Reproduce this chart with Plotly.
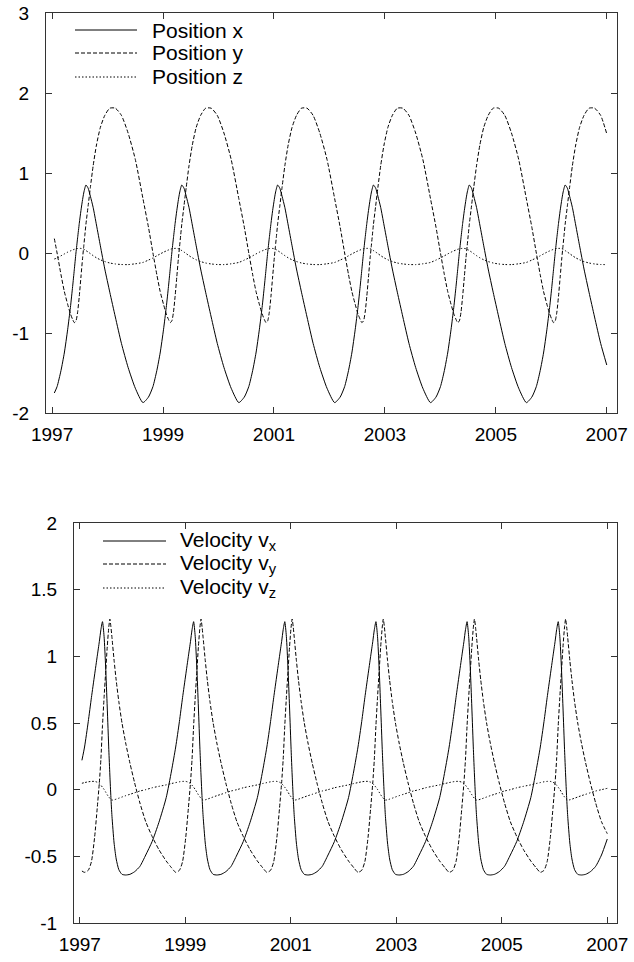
import plotly.graph_objects as go

# ---------------- data ----------------
t = [
    1997.04, 1997.09, 1997.16, 1997.22, 1997.28, 1997.33, 1997.37, 1997.40, 1997.43, 1997.46, 1997.49, 1997.52, 1997.55, 1997.57, 1997.59, 1997.61, 1997.65, 1997.69, 1997.74, 1997.80, 1997.87, 1997.95, 1998.04, 1998.14, 1998.25, 1998.37, 1998.50,
    1998.638, 1998.738, 1998.818, 1998.888, 1998.948, 1999.008, 1999.058, 1999.098, 1999.128, 1999.158, 1999.188, 1999.218, 1999.248, 1999.278, 1999.298, 1999.318, 1999.338, 1999.378, 1999.418, 1999.468, 1999.528, 1999.598, 1999.678, 1999.768, 1999.868, 1999.978, 2000.098, 2000.228,
    2000.366, 2000.466, 2000.546, 2000.616, 2000.676, 2000.736, 2000.786, 2000.826, 2000.856, 2000.886, 2000.916, 2000.946, 2000.976, 2001.006, 2001.026, 2001.046, 2001.066, 2001.106, 2001.146, 2001.196, 2001.256, 2001.326, 2001.406, 2001.496, 2001.596, 2001.706, 2001.826, 2001.956,
    2002.094, 2002.194, 2002.274, 2002.344, 2002.404, 2002.464, 2002.514, 2002.554, 2002.584, 2002.614, 2002.644, 2002.674, 2002.704, 2002.734, 2002.754, 2002.774, 2002.794, 2002.834, 2002.874, 2002.924, 2002.984, 2003.054, 2003.134, 2003.224, 2003.324, 2003.434, 2003.554, 2003.684,
    2003.822, 2003.922, 2004.002, 2004.072, 2004.132, 2004.192, 2004.242, 2004.282, 2004.312, 2004.342, 2004.372, 2004.402, 2004.432, 2004.462, 2004.482, 2004.502, 2004.522, 2004.562, 2004.602, 2004.652, 2004.712, 2004.782, 2004.862, 2004.952, 2005.052, 2005.162, 2005.282, 2005.412,
    2005.55, 2005.65, 2005.73, 2005.80, 2005.86, 2005.92, 2005.97, 2006.01, 2006.04, 2006.07, 2006.10, 2006.13, 2006.16, 2006.19, 2006.21, 2006.23, 2006.25, 2006.29, 2006.33, 2006.38, 2006.44, 2006.51, 2006.59, 2006.68, 2006.78, 2006.89, 2007.00,
]

pos_x = [
    -1.75, -1.67, -1.47, -1.25, -0.96, -0.68, -0.42, -0.21, 0.00, 0.19, 0.37, 0.53, 0.67, 0.75, 0.81, 0.85, 0.81, 0.71, 0.57, 0.35, 0.09, -0.20, -0.49, -0.80, -1.13, -1.43, -1.69,
    -1.87, -1.80, -1.67, -1.47, -1.25, -0.96, -0.68, -0.42, -0.21, 0.00, 0.19, 0.37, 0.53, 0.67, 0.75, 0.81, 0.85, 0.81, 0.71, 0.57, 0.35, 0.09, -0.20, -0.49, -0.80, -1.13, -1.43, -1.69,
    -1.87, -1.80, -1.67, -1.47, -1.25, -0.96, -0.68, -0.42, -0.21, 0.00, 0.19, 0.37, 0.53, 0.67, 0.75, 0.81, 0.85, 0.81, 0.71, 0.57, 0.35, 0.09, -0.20, -0.49, -0.80, -1.13, -1.43, -1.69,
    -1.87, -1.80, -1.67, -1.47, -1.25, -0.96, -0.68, -0.42, -0.21, 0.00, 0.19, 0.37, 0.53, 0.67, 0.75, 0.81, 0.85, 0.81, 0.71, 0.57, 0.35, 0.09, -0.20, -0.49, -0.80, -1.13, -1.43, -1.69,
    -1.87, -1.80, -1.67, -1.47, -1.25, -0.96, -0.68, -0.42, -0.21, 0.00, 0.19, 0.37, 0.53, 0.67, 0.75, 0.81, 0.85, 0.81, 0.71, 0.57, 0.35, 0.09, -0.20, -0.49, -0.80, -1.13, -1.43, -1.69,
    -1.87, -1.80, -1.67, -1.47, -1.25, -0.96, -0.68, -0.42, -0.21, 0.00, 0.19, 0.37, 0.53, 0.67, 0.75, 0.81, 0.85, 0.81, 0.71, 0.57, 0.35, 0.09, -0.20, -0.49, -0.80, -1.13, -1.40,
]

pos_y = [
    0.18, 0.00, -0.27, -0.48, -0.64, -0.76, -0.83, -0.87, -0.85, -0.74, -0.54, -0.30, -0.06, 0.08, 0.22, 0.36, 0.59, 0.82, 1.09, 1.35, 1.57, 1.72, 1.81, 1.81, 1.72, 1.50, 1.17,
    0.68, 0.32, 0.00, -0.27, -0.48, -0.64, -0.76, -0.83, -0.87, -0.85, -0.74, -0.54, -0.30, -0.06, 0.08, 0.22, 0.36, 0.59, 0.82, 1.09, 1.35, 1.57, 1.72, 1.81, 1.81, 1.72, 1.50, 1.17,
    0.68, 0.32, 0.00, -0.27, -0.48, -0.64, -0.76, -0.83, -0.87, -0.85, -0.74, -0.54, -0.30, -0.06, 0.08, 0.22, 0.36, 0.59, 0.82, 1.09, 1.35, 1.57, 1.72, 1.81, 1.81, 1.72, 1.50, 1.17,
    0.68, 0.32, 0.00, -0.27, -0.48, -0.64, -0.76, -0.83, -0.87, -0.85, -0.74, -0.54, -0.30, -0.06, 0.08, 0.22, 0.36, 0.59, 0.82, 1.09, 1.35, 1.57, 1.72, 1.81, 1.81, 1.72, 1.50, 1.17,
    0.68, 0.32, 0.00, -0.27, -0.48, -0.64, -0.76, -0.83, -0.87, -0.85, -0.74, -0.54, -0.30, -0.06, 0.08, 0.22, 0.36, 0.59, 0.82, 1.09, 1.35, 1.57, 1.72, 1.81, 1.81, 1.72, 1.50, 1.17,
    0.68, 0.32, 0.00, -0.27, -0.48, -0.64, -0.76, -0.83, -0.87, -0.85, -0.74, -0.54, -0.30, -0.06, 0.08, 0.22, 0.36, 0.59, 0.82, 1.09, 1.35, 1.57, 1.72, 1.81, 1.81, 1.72, 1.49,
]

pos_z = [
    -0.075, -0.062, -0.035, -0.012, 0.010, 0.026, 0.038, 0.046, 0.052, 0.056, 0.058, 0.057, 0.053, 0.048, 0.040, 0.030, 0.012, -0.008, -0.033, -0.060, -0.085, -0.107, -0.125, -0.137, -0.144, -0.145, -0.135,
    -0.118, -0.088, -0.062, -0.035, -0.012, 0.010, 0.026, 0.038, 0.046, 0.052, 0.056, 0.058, 0.057, 0.053, 0.048, 0.040, 0.030, 0.012, -0.008, -0.033, -0.060, -0.085, -0.107, -0.125, -0.137, -0.144, -0.145, -0.135,
    -0.118, -0.088, -0.062, -0.035, -0.012, 0.010, 0.026, 0.038, 0.046, 0.052, 0.056, 0.058, 0.057, 0.053, 0.048, 0.040, 0.030, 0.012, -0.008, -0.033, -0.060, -0.085, -0.107, -0.125, -0.137, -0.144, -0.145, -0.135,
    -0.118, -0.088, -0.062, -0.035, -0.012, 0.010, 0.026, 0.038, 0.046, 0.052, 0.056, 0.058, 0.057, 0.053, 0.048, 0.040, 0.030, 0.012, -0.008, -0.033, -0.060, -0.085, -0.107, -0.125, -0.137, -0.144, -0.145, -0.135,
    -0.118, -0.088, -0.062, -0.035, -0.012, 0.010, 0.026, 0.038, 0.046, 0.052, 0.056, 0.058, 0.057, 0.053, 0.048, 0.040, 0.030, 0.012, -0.008, -0.033, -0.060, -0.085, -0.107, -0.125, -0.137, -0.144, -0.145, -0.135,
    -0.118, -0.088, -0.062, -0.035, -0.012, 0.010, 0.026, 0.038, 0.046, 0.052, 0.056, 0.058, 0.057, 0.053, 0.048, 0.040, 0.030, 0.012, -0.008, -0.033, -0.060, -0.085, -0.107, -0.125, -0.137, -0.144, -0.145,
]

vel_x = [
    0.22, 0.32, 0.51, 0.69, 0.86, 1.00, 1.11, 1.20, 1.26, 1.15, 0.92, 0.62, 0.30, 0.11, -0.06, -0.20, -0.40, -0.52, -0.60, -0.635, -0.64, -0.635, -0.615, -0.575, -0.49, -0.39, -0.245,
    -0.06, 0.14, 0.32, 0.51, 0.69, 0.86, 1.00, 1.11, 1.20, 1.26, 1.15, 0.92, 0.62, 0.30, 0.11, -0.06, -0.20, -0.40, -0.52, -0.60, -0.635, -0.64, -0.635, -0.615, -0.575, -0.49, -0.39, -0.245,
    -0.06, 0.14, 0.32, 0.51, 0.69, 0.86, 1.00, 1.11, 1.20, 1.26, 1.15, 0.92, 0.62, 0.30, 0.11, -0.06, -0.20, -0.40, -0.52, -0.60, -0.635, -0.64, -0.635, -0.615, -0.575, -0.49, -0.39, -0.245,
    -0.06, 0.14, 0.32, 0.51, 0.69, 0.86, 1.00, 1.11, 1.20, 1.26, 1.15, 0.92, 0.62, 0.30, 0.11, -0.06, -0.20, -0.40, -0.52, -0.60, -0.635, -0.64, -0.635, -0.615, -0.575, -0.49, -0.39, -0.245,
    -0.06, 0.14, 0.32, 0.51, 0.69, 0.86, 1.00, 1.11, 1.20, 1.26, 1.15, 0.92, 0.62, 0.30, 0.11, -0.06, -0.20, -0.40, -0.52, -0.60, -0.635, -0.64, -0.635, -0.615, -0.575, -0.49, -0.39, -0.245,
    -0.06, 0.14, 0.32, 0.51, 0.69, 0.86, 1.00, 1.11, 1.20, 1.26, 1.15, 0.92, 0.62, 0.30, 0.11, -0.06, -0.20, -0.40, -0.52, -0.60, -0.635, -0.64, -0.635, -0.615, -0.575, -0.49, -0.37,
]

vel_y = [
    -0.61, -0.62, -0.605, -0.54, -0.36, -0.14, 0.05, 0.23, 0.48, 0.69, 0.88, 1.07, 1.22, 1.28, 1.22, 1.14, 0.97, 0.82, 0.66, 0.50, 0.35, 0.20, 0.05, -0.10, -0.24, -0.35, -0.45,
    -0.535, -0.585, -0.62, -0.605, -0.54, -0.36, -0.14, 0.05, 0.23, 0.48, 0.69, 0.88, 1.07, 1.22, 1.28, 1.22, 1.14, 0.97, 0.82, 0.66, 0.50, 0.35, 0.20, 0.05, -0.10, -0.24, -0.35, -0.45,
    -0.535, -0.585, -0.62, -0.605, -0.54, -0.36, -0.14, 0.05, 0.23, 0.48, 0.69, 0.88, 1.07, 1.22, 1.28, 1.22, 1.14, 0.97, 0.82, 0.66, 0.50, 0.35, 0.20, 0.05, -0.10, -0.24, -0.35, -0.45,
    -0.535, -0.585, -0.62, -0.605, -0.54, -0.36, -0.14, 0.05, 0.23, 0.48, 0.69, 0.88, 1.07, 1.22, 1.28, 1.22, 1.14, 0.97, 0.82, 0.66, 0.50, 0.35, 0.20, 0.05, -0.10, -0.24, -0.35, -0.45,
    -0.535, -0.585, -0.62, -0.605, -0.54, -0.36, -0.14, 0.05, 0.23, 0.48, 0.69, 0.88, 1.07, 1.22, 1.28, 1.22, 1.14, 0.97, 0.82, 0.66, 0.50, 0.35, 0.20, 0.05, -0.10, -0.24, -0.35, -0.45,
    -0.535, -0.585, -0.62, -0.605, -0.54, -0.36, -0.14, 0.05, 0.23, 0.48, 0.69, 0.88, 1.07, 1.22, 1.28, 1.22, 1.14, 0.97, 0.82, 0.66, 0.50, 0.35, 0.20, 0.05, -0.10, -0.24, -0.33,
]

vel_z = [
    0.048, 0.053, 0.059, 0.062, 0.062, 0.056, 0.045, 0.033, 0.018, 0.002, -0.018, -0.038, -0.055, -0.065, -0.073, -0.078, -0.076, -0.071, -0.064, -0.055, -0.045, -0.035, -0.023, -0.010, 0.000, 0.014, 0.025,
    0.036, 0.046, 0.053, 0.059, 0.062, 0.062, 0.056, 0.045, 0.033, 0.018, 0.002, -0.018, -0.038, -0.055, -0.065, -0.073, -0.078, -0.076, -0.071, -0.064, -0.055, -0.045, -0.035, -0.023, -0.010, 0.000, 0.014, 0.025,
    0.036, 0.046, 0.053, 0.059, 0.062, 0.062, 0.056, 0.045, 0.033, 0.018, 0.002, -0.018, -0.038, -0.055, -0.065, -0.073, -0.078, -0.076, -0.071, -0.064, -0.055, -0.045, -0.035, -0.023, -0.010, 0.000, 0.014, 0.025,
    0.036, 0.046, 0.053, 0.059, 0.062, 0.062, 0.056, 0.045, 0.033, 0.018, 0.002, -0.018, -0.038, -0.055, -0.065, -0.073, -0.078, -0.076, -0.071, -0.064, -0.055, -0.045, -0.035, -0.023, -0.010, 0.000, 0.014, 0.025,
    0.036, 0.046, 0.053, 0.059, 0.062, 0.062, 0.056, 0.045, 0.033, 0.018, 0.002, -0.018, -0.038, -0.055, -0.065, -0.073, -0.078, -0.076, -0.071, -0.064, -0.055, -0.045, -0.035, -0.023, -0.010, 0.000, 0.014, 0.025,
    0.036, 0.046, 0.053, 0.059, 0.062, 0.062, 0.056, 0.045, 0.033, 0.018, 0.002, -0.018, -0.038, -0.055, -0.065, -0.073, -0.078, -0.076, -0.071, -0.064, -0.055, -0.045, -0.035, -0.023, -0.010, 0.000, 0.010,
]

year_ticks = [1997, 1999, 2001, 2003, 2005, 2007]
year_labels = ["1997", "1999", "2001", "2003", "2005", "2007"]
pos_ticks = [-2, -1, 0, 1, 2, 3]
pos_labels = ["-2", "-1", "0", "1", "2", "3"]
vel_ticks = [-1, -0.5, 0, 0.5, 1, 1.5, 2]
vel_labels = ["-1", "-0.5", "0", "0.5", "1", "1.5", "2"]

pos_names = ["Position x", "Position y", "Position z"]
vel_names = ["Velocity v<sub>x</sub>", "Velocity v<sub>y</sub>", "Velocity v<sub>z</sub>"]

# ---------------- styling ----------------
W, H = 634, 962
FONT = "Liberation Sans, Arial, Helvetica, sans-serif"
FS = 19
KEY_FS = 21
INK = "#000000"
DASHES = ["solid", "4px,2px", "1.5px,2px"]


def px_x(p):
    return p / W


def px_y(p):
    return 1 - p / H


fig = go.Figure()

for vals, name, dash in zip([pos_x, pos_y, pos_z], pos_names, DASHES):
    fig.add_trace(go.Scatter(
        x=t, y=vals, mode="lines", name=name, showlegend=False,
        line=dict(color=INK, width=1, dash=dash, shape="spline", smoothing=0.6),
        xaxis="x", yaxis="y"))

for vals, name, dash in zip([vel_x, vel_y, vel_z], vel_names, DASHES):
    fig.add_trace(go.Scatter(
        x=t, y=vals, mode="lines", name=name, showlegend=False,
        line=dict(color=INK, width=1, dash=dash, shape="spline", smoothing=0.6),
        xaxis="x2", yaxis="y2"))

axis_common = dict(
    showline=True, linecolor="#333333", linewidth=1, mirror="ticks",
    ticks="inside", ticklen=6, tickwidth=1, tickcolor="#333333",
    showgrid=False, zeroline=False, automargin=False,
    tickfont=dict(family=FONT, size=FS, color=INK),
)

xr = [1996.89, 2007.19]

fig.update_layout(
    template="none",
    width=W, height=H,
    margin=dict(l=0, r=0, t=0, b=0, pad=0, autoexpand=False),
    paper_bgcolor="white", plot_bgcolor="white",
    font=dict(family=FONT, size=FS, color=INK),
    showlegend=False,
    xaxis=dict(domain=[px_x(46), px_x(617.3)], range=xr, anchor="y",
               tickmode="array", tickvals=year_ticks, ticktext=year_labels,
               ticklabelstandoff=4, **axis_common),
    yaxis=dict(domain=[px_y(413), px_y(13)], range=[-2, 3], anchor="x",
               tickmode="array", tickvals=pos_ticks, ticktext=pos_labels,
               ticklabelstandoff=12, **axis_common),
    xaxis2=dict(domain=[px_x(74), px_x(617.3)], range=xr, anchor="y2",
                tickmode="array", tickvals=year_ticks, ticktext=year_labels,
                ticklabelstandoff=4, **axis_common),
    yaxis2=dict(domain=[px_y(923), px_y(523)], range=[-1, 2], anchor="x2",
                tickmode="array", tickvals=vel_ticks, ticktext=vel_labels,
                ticklabelstandoff=12, **axis_common),
)

# manual gnuplot-style keys (sample line on the left, label on the right)
shapes = []
annotations = []
key_rows_top = [30, 53, 77]
key_rows_bot = [541, 564, 588]
for rows, names, (lx0, lx1, tx) in [
    (key_rows_top, pos_names, (75, 137, 150)),
    (key_rows_bot, vel_names, (103, 166, 178)),
]:
    for yy, name, dash in zip(rows, names, DASHES):
        shapes.append(dict(type="line", xref="paper", yref="paper",
                           x0=px_x(lx0), x1=px_x(lx1), y0=px_y(yy), y1=px_y(yy),
                           line=dict(color=INK, width=1, dash=dash)))
        annotations.append(dict(xref="paper", yref="paper", x=px_x(tx), y=px_y(yy),
                                xanchor="left", yanchor="middle", showarrow=False,
                                text=name, font=dict(family=FONT, size=KEY_FS, color=INK)))

fig.update_layout(shapes=shapes, annotations=annotations)

fig.write_html("out.html")
